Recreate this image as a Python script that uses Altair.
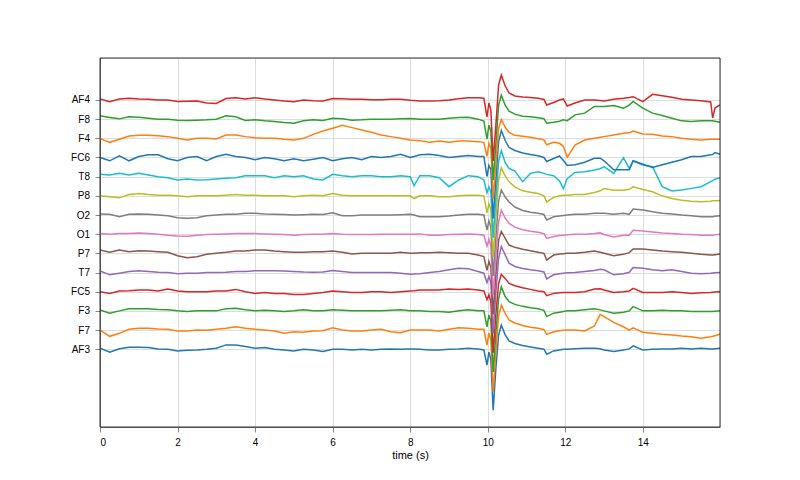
import altair as alt
import pandas as pd

# sample times (s)
T = [0.0, 0.25, 0.5, 0.75, 1.0, 1.25, 1.5, 1.75, 2.0, 2.25, 2.5, 2.75, 3.0, 3.25, 3.5, 3.75, 4.0,
     4.25, 4.5, 4.75, 5.0, 5.25, 5.5, 5.75, 6.0, 6.25, 6.5, 6.75, 7.0, 7.25, 7.5, 7.75, 8.0, 8.1,
     8.25, 8.5, 8.75, 9.0, 9.25, 9.5, 9.75,
     9.9, 9.98, 10.03, 10.08, 10.14, 10.21, 10.28, 10.35, 10.45, 10.55, 10.7, 10.9, 11.1, 11.3,
     11.45, 11.52, 11.7, 11.85, 11.95, 12.05,
     12.25, 12.5, 12.75, 12.9, 13.0, 13.25, 13.5, 13.65, 13.75, 14.0, 14.25, 14.5, 14.75, 15.0,
     15.25, 15.5, 15.75, 15.8, 15.86, 15.99]

CHANNELS = ["AF3", "F7", "F3", "FC5", "T7", "P7", "O1", "O2", "P8", "T8", "FC6", "F4", "F8", "AF4"]
COLORS = ["#1f77b4", "#ff7f0e", "#2ca02c", "#d62728", "#9467bd", "#8c564b", "#e377c2",
          "#7f7f7f", "#bcbd22", "#17becf", "#1f77b4", "#ff7f0e", "#2ca02c", "#d62728"]

AF3 = [1, -3, 0.5, 2, 2, 1.7, 0.3, 0, -1.7, -1, -0.7, 0, 1, 4.3, 4.3, 2.7, 1,
       1.7, 0, -0.7, -1.7, 0, -0.7, -2.3, 0, 0, -0.7, 0, -0.7, 0, 0.3, 0, 0.3, 0.3,
       0, -0.7, -0.7, 0, 0.3, 1, 0.3,
       -0.7, -16, -3, -10, -61, -19, 14, 24, 14.3, 8.3, 5.7, 3.7, 2.3, 1, 0, -5, -1.7, -0.7, 0, 0,
       0.5, 1, 1, 0.5, -0.7, -2.3, -0.7, 0.3, 3.3, -0.7, 0, 0.3, 0.3, 1, 0.3, 1, 0.3, 0.3, 0.5, 1]
F7 = [0, -6.3, -3.3, 0.7, 1.7, 1.7, 1, 0.7, -1, -1, 0, -0.3, 0.7, 1.7, 3.3, 1.7, 0.7,
      0, -1, -3.3, -1.7, -2.3, -1, -0.7, 2.3, 0, -1, -1, 0, 0.7, -1.7, -2.7, 0, 0,
      0, 0, -1, 0.7, 2.3, 1.7, 0.7,
      0.7, -15, -3, -10, -62, -22, 14, 25, 16.7, 10, 7, 4.5, 2.7, 1.7, 0.3, -4.3, -1.7, -0.7, -0.3, 0,
      0, -1, 4, 15.7, 13.3, 7.7, 3.3, 0, 2.3, -2.3, -3.3, -4.3, -5, -6, -6.7, -8.3, -6.7, -6.3, -5.7, -4.3]
F3 = [1, -2.3, 0, 2, 2, 2, 1.3, 1, 0, -0.7, 0, 0, 0, 2, 2.7, 1, 0,
      0.7, 0, -0.7, 0, 1, 0, 0, 1, 0.7, 0, 0, 0, 0, 0.7, 1, 0, 0,
      0, -0.7, -0.7, -1.3, 0, 1, 0,
      0, -16, -4, -10, -61, -22, 12, 24, 14.3, 9.3, 6.5, 4.5, 3, 2, 0.5, -5.7, -2.3, -1.3, -0.7, 0,
      0, 1, 2, 1, 0, -2.3, -1.3, 0, 4.3, 0, 0, 0.7, 0, 0, -0.7, -0.7, -0.7, -0.7, -0.5, 0]
FC5 = [0, -1.7, 0.7, 1, 1.7, 1.7, 0.7, 2.7, 0.7, 0, 0, 0, 0.7, 0.7, 2.3, 0, -1.7,
       -0.7, -1.7, -1.7, -2.7, -2.7, -1.7, -0.7, 0.7, 0, -0.7, -0.7, 0, 0, -0.7, 0, 0.7, 1,
       1.7, 1.7, 1.7, 2.7, 2.3, 2.7, 1.7,
       0.7, -8, -3, -10, -61, -22, 8, 17.3, 13.3, 8.3, 6, 4, 2.3, 0.7, 0, -4, -1.7, -1, -0.7, -0.7,
       -0.7, 0, 2.7, 3, 1.7, -0.7, 0, 0.7, 3.3, -0.7, -0.7, -0.7, 0, -0.7, -1.7, -1, -0.7, -0.5, -0.3, 0]
T7 = [1.7, -2.3, -0.7, 1, 1.7, 1, 0.3, 0, -1.3, -0.7, -0.7, 0, 0, 0.3, 1, 1, 1.7,
      1.7, 1.7, 1.5, 1, 0.5, 0.3, 0.5, 2, 1, 0, 0, 0, 0, 0, -0.7, -1.7, -1.5,
      -1.3, 0, 1, 2.7, 4.3, 3.7, 1,
      -0.7, -10, -4, -10, -61, -20, 14, 26, 17.7, 9.3, 6, 4, 2.7, 1.7, 0.5, -6.3, -2.3, -1.3, -0.7, -0.3,
      0, 1, 2, 3.3, 2.7, -2.3, -1.3, 0.3, 5, 4.3, 2.7, 1.7, 2.7, 1, -0.7, -1.3, -0.7, -0.5, -0.3, 0]
P7 = [3.3, 1, 3.3, 1.7, 2.7, 2.3, 1.7, 1, -2.3, -4.3, -3.3, -1, 0, 1, 2.3, 2.3, 3.3,
      3.3, 2.3, 1.7, 1, 1, 1.7, 1.7, 2.3, 1, -0.7, 0, 0, 0, 0, 1, 0, 0,
      0.7, 0.7, 1, 0.7, 0, 0, -1.7,
      -3.3, -17, -8, -14, -61, -20, 13, 22, 15, 8.3, 6, 4, 2.7, 1, 0, -6.7, -1.7, -0.7, -0.3, 0,
      0, 1, 2.3, 1, 0, -2.3, -1, 0.7, 4.3, 4.3, 3.3, 2.3, 1.7, 1, 0, -1, -1.7, -1.7, -1.3, -0.7]
O1 = [0.7, 0, 0.7, 0.7, 1.3, 0.7, 0, -1, -1.7, -2, -1, -0.3, 0, 0.3, 0.7, 0.7, 0.7,
      0.3, 0, -0.3, -1, -0.3, 0, 0, 0.7, 0, -0.3, -0.3, -0.3, 0, 0, 0, 0, 0,
      0.3, -1, -1, -0.3, 0, 0.3, -0.3,
      -1, -12, -5, -12, -61, -22, 12, 24, 16, 10.7, 7, 4.5, 3, 2, 0.5, -4.3, -2.3, -1.3, -1, -0.5,
      0, 0, 0.7, 1.3, -0.3, -2.7, -1, -1, 4, 3.3, 2.3, 1.3, 0.7, 0, -0.3, -1, -1, -1, -0.7, 0]
O2 = [1, 0.7, -1.7, 0.7, 1, 0.7, 0, -0.7, -2.7, -3.3, -2.7, -0.7, 0, 0.7, 0.7, 1.7, 1.7,
      1, 0.7, 0.5, 0, 0.3, 0.7, 0.5, 2.3, -0.7, -0.7, 0, 0, 0, 0, 0.3, 0.7, 0,
      -1.7, -1.7, -1.7, -1, 0, 0.7, 0.7,
      0, -15, -6, -12, -61, -22, 14, 25, 18, 13, 8, 4.5, 2.7, 1.7, 0.5, -5, -1.7, -1, -0.5, 0,
      0.7, 0.7, 1.7, 1.7, 1.7, 0.7, 1.7, 0.7, 6, 5, 3.3, 1.7, 1, 0, -0.7, -1.7, -1.7, -1.7, -1.3, -0.7]
P8 = [0, -1, -2, 1.3, 2.3, 1.3, 0.7, 0.7, 0, -1, 0, 0, 0, 0.7, 1.3, 0.7, 0.7,
      0, 0, 0, -1, 0, 0.7, 0, 2.3, 0.7, 0, 0, 0, 0, 0, 0, 0, -2.7,
      0, 0, -1, -1, 0, 0.7, 0.7,
      0, -17, -8, -14, -61, -22, 16, 28, 20, 14, 9, 5, 3.5, 2.3, 0, -6, -1.5, 0, 0.5, 0.7,
      1.3, 1.3, 3.3, 5, 7.3, 5.7, 5.7, 6.5, 9, 6.3, 4, 0, -2.7, -4.3, -5.3, -6, -5.3, -5, -5, -4.7]
T8 = [2.3, 1.7, 3.3, 1.7, 3.3, 1.7, 0, -1, -3.3, -2.3, -3.3, -3, -2.3, -1.7, -1, 1, 1,
      1, -1, 1, 0, 1, -2.3, -3.3, 2.3, 1, 0, 1, 1, 0, 0, 1, 0, -9,
      1, 1, -1, -10, -3.3, 1, 0,
      -3.3, -16, -10, -15, -61, -22, 15, 26, 14, 8.3, 5.5, -5, 3.3, 5, 3.3, 2.3, 1, -4.3, -12, -2,
      4.3, 5, 6.7, 8, 10, 3.3, 19, 8.3, 15.7, 11.7, 10, -10, -14.3, -13.3, -11.7, -10, -5, -4, -2.5, -1]
FC6 = [0, -3.3, 1.7, -3.3, 1, 2.7, 2.7, -1.3, -3.3, 0, 1, -3.3, 1, 3.3, 1, 0, -2.3,
       0, -1.3, -3.3, -1.3, -3.3, -1.7, 0, -3.3, -1.3, 0, -2.3, 1, 0, 1, 3.3, 0, 1,
       2.7, 3.3, 2, 0, 1, 2, 1,
       1, -19, -8, -12, -61, -22, 16, 27, 17, 10, 7, 4.5, 3, 1.7, 0, -4, -1, 1.5, -3, -8,
       -7.3, -4.7, -0.7, -0.7, -3.3, -12.3, -12.3, -12.3, -3.3, -6.7, -10, -7.3, -4.7, -2.3, 1, 1, 2.7, 3, 5, 3.3]
F4 = [0, -4, -1, 2.3, 3, 3, 2.7, 1.7, 0, -1.7, 0, 0, -0.7, 3.3, 3.3, 1.7, 0.7,
      0, 0, -1, -1.7, 0, 4, 7.3, 10, 13, 10.7, 8.3, 6, 3.3, 1.7, 0, -1.7, -2,
      -2.3, -4, -2.7, -4, -2.7, -2.7, -3.3,
      -4, -18, -5, -10, -61, -25, 10, 19, 11, 6, 3, 2, 1, -0.5, -1.5, -6.5, -4, -5, -8, -19,
      -6.7, -1.7, 0, 1, 1.7, 3.3, 5, 5.5, 7.3, 4.3, 4, 2.3, 1.7, 0, -1, -1.7, -1, -1, -1, -1]
F8 = [3.3, 1.7, 0.3, 2.3, 2, 1, 0, 0, -1, -1.3, -1, -0.7, 0, 3.3, 2.3, -1.3, -0.7,
      -1.7, -2.3, -3.3, -4, -1.7, -0.7, -1.3, 1, 0.3, -1, -0.7, 0, 0, 0, 0.3, 0.7, 0.5,
      0, 0, 0, 1, 1.7, 2, 0,
      -2, -20, -6, -12, -61, -25, 14, 24, 14, 8, 5, 3, 2.5, 1.5, 0.5, -4, -3, -2, -0.7, -1.5,
      4.3, 6, 12.7, 12.7, 12.7, 13.7, 11, 14, 17.7, 11, 6, 3.7, 1, -1.7, -2.3, -1.7, -1.7, -1.7, -2, -3]
AF4 = [1, -1.7, 1, 1.7, 1, 0.7, 0, 0, -1.5, -1.3, -1, -3, -3.5, 1.5, 2.3, 1, 2.3,
       1, 0, -1, -1.7, 0, -0.7, -1, 1.5, 1.3, 0.7, 0.7, 0.3, 0.3, 0.7, 0.7, -0.3, -0.5,
       -1, -1, -0.7, 0, 1.3, 2.3, 2.3,
       1.7, -17, -3, -10, -61, -25, 15, 25, 14, 7, 4, 3, 2.5, 1.7, 0.5, -5, -2.5, 0, 1, -6,
       -3, 0, 0, -0.5, -1, 0.7, 1.7, 2.5, 3.3, -1.7, 5.7, 4.3, 2.7, 0.7, 0, -0.7, -2, -18, -8, -5]

SERIES = [AF3, F7, F3, FC5, T7, P7, O1, O2, P8, T8, FC6, F4, F8, AF4]
SPACING = 19.17

for s in SERIES:
    assert len(s) == len(T), len(s)

x_enc = alt.X("t:Q",
              scale=alt.Scale(domain=[0, 15.99], nice=False, zero=False),
              axis=alt.Axis(values=list(range(0, 16, 2)), format="d", title="time (s)",
                            titleFontWeight="normal", grid=True, labelPadding=5, titlePadding=2))
y_enc = alt.Y("y:Q",
              scale=alt.Scale(domain=[-77.8, 291.2], nice=False, zero=False),
              axis=alt.Axis(values=[k * SPACING for k in range(14)],
                            labelExpr="['" + "','".join(CHANNELS) + "'][round(datum.value / "
                                      + str(SPACING) + ")]",
                            title=None, grid=True, labelPadding=5.5))

layers = []
for i, (name, vals, col) in enumerate(zip(CHANNELS, SERIES, COLORS)):
    df = pd.DataFrame({"t": T, "y": [i * SPACING + v for v in vals], "ch": name})
    layers.append(
        alt.Chart(df).mark_line(color=col, strokeWidth=1.5, clip=True).encode(
            x=x_enc, y=y_enc, order=alt.Order("t:Q"),
        )
    )

# axes frame (top and right edges of the plot box)
frame = alt.Chart(pd.DataFrame({"d": [0]})).mark_rect(
    filled=False, stroke="black", strokeWidth=0.8, fillOpacity=0
).encode(
    x=alt.value(0), x2=alt.value(620), y=alt.value(0), y2=alt.value(369)
)

chart = alt.layer(*layers, frame).properties(
    width=620, height=369,
    autosize=alt.AutoSizeParams(type="none"),
    padding={"left": 92, "top": 50, "right": 72, "bottom": 45},
).configure_view(
    stroke="black", strokeWidth=0.8
).configure_axis(
    labelFont="DejaVu Sans", labelFontSize=10, labelColor="black",
    titleFont="DejaVu Sans", titleFontSize=10, titleFontWeight="normal", titleColor="black",
    tickColor="black", tickSize=3.5, tickWidth=0.8,
    domainColor="black", domainWidth=0.8,
    gridColor="#b0b0b0", gridWidth=0.8,
).configure(background="white")

chart.save("out.html", embed_options={"renderer": "svg", "actions": False})
